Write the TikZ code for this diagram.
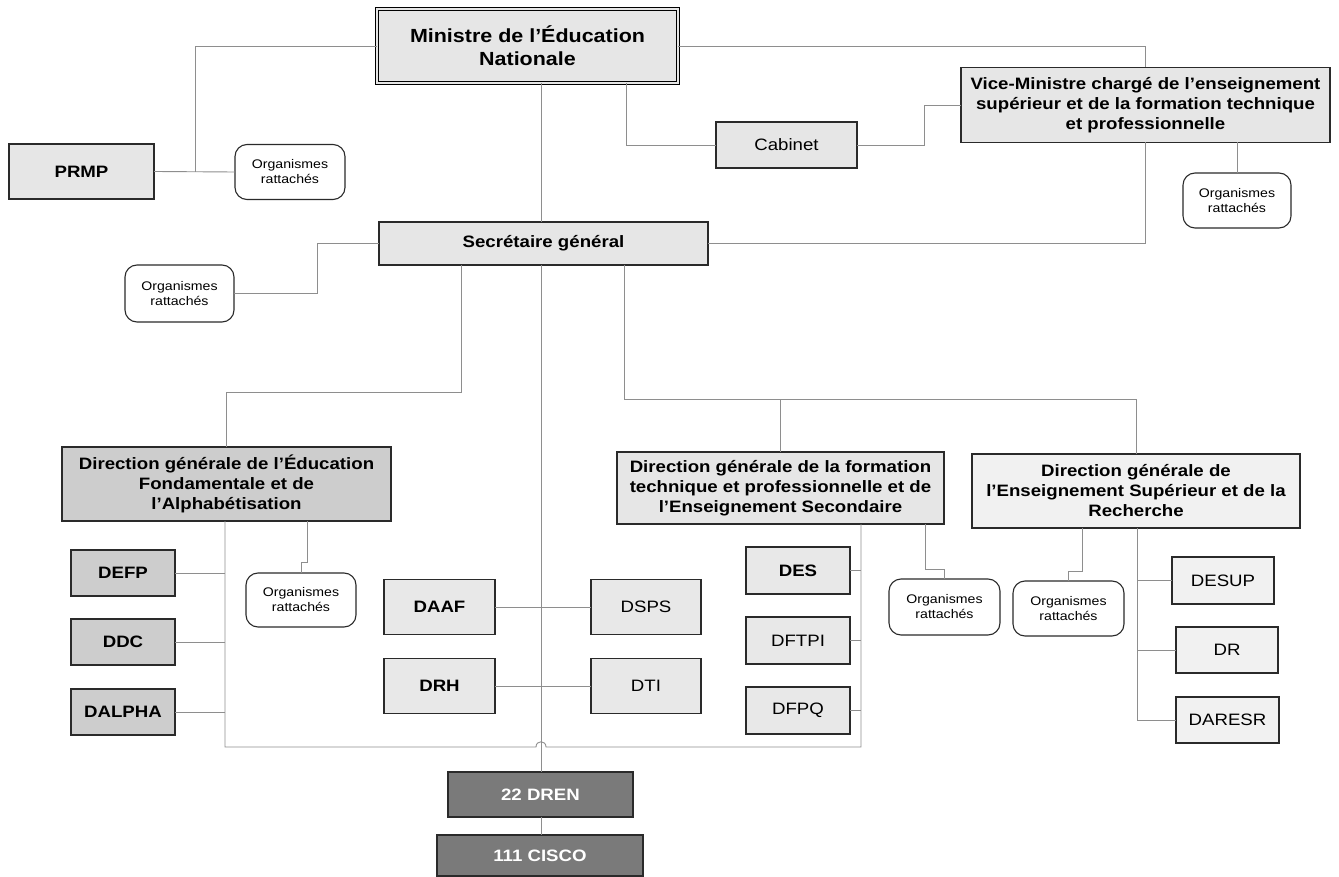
\documentclass[tikz,border=0pt]{standalone}
\usepackage{fontspec}
\setmainfont{Liberation Sans}[FakeStretch=1.13]
\usetikzlibrary{calc}
\definecolor{fillA}{HTML}{E6E6E6}
\definecolor{fillB}{HTML}{CDCDCD}
\definecolor{fillC}{HTML}{E8E8E8}
\definecolor{fillD}{HTML}{F1F1F1}
\definecolor{fillE}{HTML}{7A7A7A}
\definecolor{lineC}{HTML}{8E8E8E}
\definecolor{bordC}{HTML}{2A2A2A}
\tikzset{
  every node/.style={inner sep=0pt, outer sep=0pt},
  bx/.style args={#1/#2}{draw=bordC, line width=1.3pt, rectangle, fill=fillA,
     minimum width=#1, minimum height=#2, align=center, font=\fontsize{16.5}{20}\selectfont},
  bld/.style={font=\fontsize{16.5}{20}\selectfont\bfseries},
  org/.style={draw=bordC, line width=1.1pt, rounded corners=12pt, fill=white,
     minimum width=110pt, minimum height=55pt, align=center, font=\fontsize{12.5}{15}\selectfont},
  conn/.style={draw=lineC, line width=0.9pt},
}
\begin{document}
\begin{tikzpicture}[x=1pt,y=-1pt]
\useasboundingbox (0,0) rectangle (1339,877);
% --- nodes
\node[bx={301pt/74pt}, draw=black, double=fillA, double distance=2pt, line width=1pt,
      font=\fontsize{19}{23}\selectfont\bfseries] (MIN) at (527.5,46) {Ministre de l’Éducation\\Nationale};
\node[bx={145pt/55pt}, bld] (PRMP) at (81.5,171.5) {PRMP};
\node[org] (OA) at (290,172) {Organismes\\rattachés};
\node[bx={141pt/46pt}] (CAB) at (786.5,145) {Cabinet};
\node[bx={369pt/75pt}, bld] (VM) at (1145.5,105) {Vice-Ministre chargé de l’enseignement\\supérieur et de la formation technique\\et professionnelle};
\node[org, minimum width=108pt] (OVM) at (1237,200.5) {Organismes\\rattachés};
\node[bx={329pt/43pt}, bld] (SG) at (543.5,243.5) {Secrétaire général};
\node[org, minimum width=109pt, minimum height=57pt] (OSG) at (179.5,293.5) {Organismes\\rattachés};
\node[bx={329pt/74pt}, bld, fill=fillB] (DGEFA) at (226.5,484) {Direction générale de l’Éducation\\Fondamentale et de\\l’Alphabétisation};
\node[bx={104pt/46pt}, bld, fill=fillB] (DEFP) at (123,573) {DEFP};
\node[bx={104pt/46pt}, bld, fill=fillB] (DDC) at (123,642) {DDC};
\node[bx={104pt/46pt}, bld, fill=fillB] (DALPHA) at (123,712) {DALPHA};
\node[org, minimum height=54pt] (OEFA) at (301,600) {Organismes\\rattachés};
\node[bx={111pt/55pt}, bld, fill=fillC] (DAAF) at (439.5,607) {DAAF};
\node[bx={110pt/55pt}, fill=fillC] (DSPS) at (646,607) {DSPS};
\node[bx={111pt/55pt}, bld, fill=fillC] (DRH) at (439.5,686) {DRH};
\node[bx={110pt/55pt}, fill=fillC] (DTI) at (646,686) {DTI};
\node[bx={327pt/72pt}, bld] (DGFTP) at (780.5,488) {Direction générale de la formation\\technique et professionnelle et de\\l’Enseignement Secondaire};
\node[bx={104pt/47pt}, bld, fill=fillC] (DES) at (798,570.5) {DES};
\node[bx={104pt/47pt}, fill=fillC] (DFTPI) at (798,640.5) {DFTPI};
\node[bx={104pt/47pt}, fill=fillC] (DFPQ) at (798,710.5) {DFPQ};
\node[org, minimum width=111pt, minimum height=56pt] (OFTP) at (944.5,607) {Organismes\\rattachés};
\node[org, minimum width=111pt] (OESR) at (1068.5,608.5) {Organismes\\rattachés};
\node[bx={328pt/74pt}, bld, fill=fillD] (DGESR) at (1136,491) {Direction générale de\\l’Enseignement Supérieur et de la\\Recherche};
\node[bx={102pt/47pt}, fill=fillD] (DESUP) at (1223,580.5) {DESUP};
\node[bx={102pt/46pt}, fill=fillD] (DR) at (1227,650) {DR};
\node[bx={103pt/46pt}, fill=fillD] (DARESR) at (1227.5,720) {DARESR};
\node[bx={185pt/45pt}, bld, fill=fillE, text=white] (DREN) at (540.5,794.5) {22 DREN};
\node[bx={206pt/41pt}, bld, fill=fillE, text=white] (CISCO) at (540,855.5) {111 CISCO};
% --- helper coordinates
\coordinate (cx) at (541,0);
\coordinate (kA) at (195,172);
\coordinate (kB) at (626,145);
\coordinate (kC) at (924,145);
\coordinate (kD) at (317,243.5);
\coordinate (k1) at (461,392);
\coordinate (k2) at (624,399);
\coordinate (k3) at (225,747);
\coordinate (k4) at (861,747);
\coordinate (k5) at (307,562);
\coordinate (k6) at (925,569);
\coordinate (k7) at (1082,571);
\coordinate (k8) at (1137,0);
\coordinate (h1) at (536,747);
\coordinate (h2) at (546,747);
% --- connectors
\draw[conn] (PRMP.east) -- (OA.west);
\draw[conn] (kA) |- (MIN.west);
\draw[conn] (MIN.south -| cx) -- (SG.north -| cx);
\draw[conn] (MIN.south -| kB) -- (kB) -- (CAB.west);
\draw[conn] (CAB.east) -- (kC) |- (VM.west);
\draw[conn] (MIN.east) -| (VM.north);
\draw[conn] (VM.south -| OVM.north) -- (OVM.north);
\draw[conn] (VM.south) |- (SG.east);
\draw[conn] (SG.west) -- (kD) |- (OSG.east);
\draw[conn] (SG.south -| k1) -- (k1) -| (DGEFA.north);
\draw[conn] (SG.south -| k2) -- (k2) -| (DGESR.north);
\draw[conn] (k2 -| DGFTP.north) -- (DGFTP.north);
\draw[conn] (SG.south -| cx) -- (DREN.north -| cx);
\draw[conn] (DREN.south -| cx) -- (CISCO.north -| cx);
\draw[conn] (DGEFA.south -| k3) -- (k3) -- (h1) .. controls (536,740) and (546,740) .. (h2) -- (k4) -- (DGFTP.south -| k4);
\draw[conn] (DEFP.east) -- (DEFP.east -| k3);
\draw[conn] (DDC.east) -- (DDC.east -| k3);
\draw[conn] (DALPHA.east) -- (DALPHA.east -| k3);
\draw[conn] (DGEFA.south -| k5) -- (k5) -| (OEFA.north);
\draw[conn] (DAAF.east) -- (DSPS.west);
\draw[conn] (DRH.east) -- (DTI.west);
\draw[conn] (DES.east) -- (DES.east -| k4);
\draw[conn] (DFTPI.east) -- (DFTPI.east -| k4);
\draw[conn] (DFPQ.east) -- (DFPQ.east -| k4);
\draw[conn] (DGFTP.south -| k6) -- (k6) -| (OFTP.north);
\draw[conn] (DGESR.south -| k7) -- (k7) -| (OESR.north);
\draw[conn] (DGESR.south -| k8) |- (DARESR.west);
\draw[conn] (DESUP.west) -- (DESUP.west -| k8);
\draw[conn] (DR.west) -- (DR.west -| k8);
\end{tikzpicture}
\end{document}
